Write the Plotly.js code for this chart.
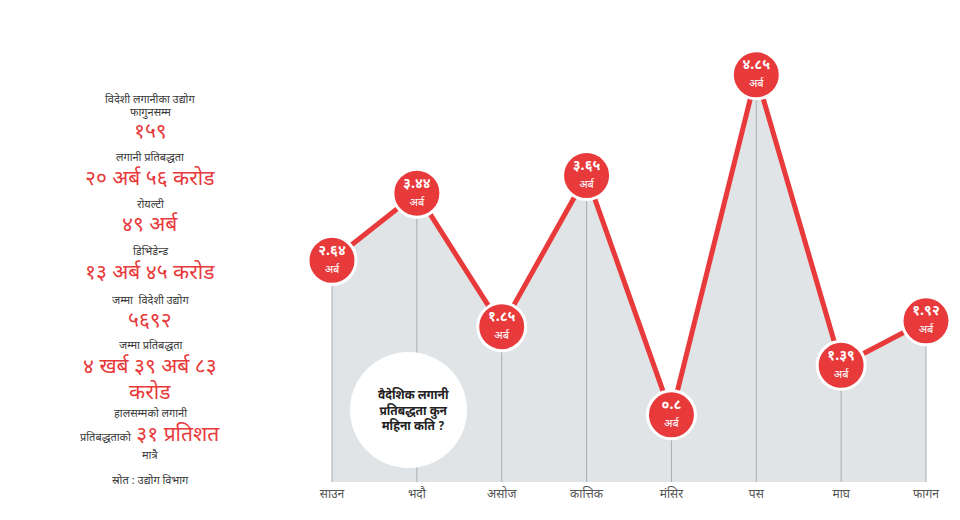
<!DOCTYPE html>
<html><head><meta charset="utf-8">
<script src="https://cdn.plot.ly/plotly-3.0.1.min.js"></script>
<style>html,body{margin:0;padding:0;background:#fff}#c{width:960px;height:520px}</style>
</head><body><div id="c"></div>
<script>
const months = ["साउन","भदौ","असोज","कात्तिक","मंसिर","पस","माघ","फागन"];
const values = [2.64, 3.44, 1.85, 3.65, 0.8, 4.85, 1.39, 1.92];
const unitLabel = "अर्ब";

const sideLines = [
  ["विदेशी लगानीका उद्योग", "s"],
  ["फागुनसम्म", "s"],
  ["१५९", "b"],
  ["लगानी प्रतिबद्धता", "s"],
  ["२० अर्ब ५६ करोड", "b"],
  ["रोयल्टी", "s"],
  ["४९ अर्ब", "b"],
  ["डिभिडेन्ड", "s"],
  ["१३ अर्ब ४५ करोड", "b"],
  ["जम्मा  विदेशी उद्योग", "s"],
  ["५६९२", "b"],
  ["जम्मा प्रतिबद्धता", "s"],
  ["४ खर्ब ३९ अर्ब ८३", "b"],
  ["करोड", "b"],
  ["हालसम्मको लगानी", "s"],
  ["प्रतिबद्धताको|३१ प्रतिशत", "m"],
  ["मात्रै", "s"],
  ["स्रोत : उद्योग विभाग", "s"]
];
const sideY = [100,113,133,158,180,205,226,252,274,301,322,346,368,394,414,436,456,481];
const bubbleText = ["वैदेशिक लगानी", "प्रतिबद्धता कुन", "महिना कति ?"];

const RED = "#e8393b";
const DARK = "#3a3a3a";
const FONT = "'Noto Sans Devanagari','Noto Sans','Lohit Devanagari',sans-serif";

const dev = "०१२३४५६७८९";
function toDev(v){ return String(v).replace(/[0-9]/g, d => dev[+d]); }

const xs = months.map((m,i)=>i);
const W = 960, H = 520, B = 38;
// pixel mapping: x=0 -> 332, x=7 -> 926
const x0px = 332, dxpx = (926-332)/7;
const xr = [(0 - x0px)/dxpx, (W - x0px)/dxpx];
const ypx = 83.95;
const yr = [0, (H - B)/ypx];
const px = p => p / W;
const py = p => (H - B - p) / (H - B);

const annotations = [];
sideLines.forEach((l,i)=>{
  let txt, size, color;
  if (l[1]==="s"){ txt=l[0]; size=11; color=DARK; }
  else if (l[1]==="b"){ txt=l[0]; size=21; color=RED; }
  else { const parts=l[0].split("|");
    txt = `<span style="font-size:11px;color:${DARK}">${parts[0]}</span> <span style="font-size:21px;color:${RED}">${parts[1]}</span>`;
    size=21; color=RED; }
  annotations.push({xref:"paper",yref:"paper",x:px(150),y:py(sideY[i]),text:txt,showarrow:false,
    xanchor:"center",yanchor:"middle",borderpad:0,font:{family:FONT,size:size,color:color}});
});
annotations.push({xref:"paper",yref:"paper",x:px(413),y:py(411),text:bubbleText.map(t=>"<b>"+t+"</b>").join("<br>"),
  showarrow:false,xanchor:"center",yanchor:"middle",font:{family:FONT,size:12,color:"#222"}});

const labels = values.map(v => `<b>${toDev(v)}</b><br><span style="font-size:11px">${unitLabel}</span>`);

const traces = [
  {x:xs,y:values,type:"scatter",mode:"lines",fill:"tozeroy",fillcolor:"#e0e4e6",
   line:{width:0,color:"rgba(0,0,0,0)"},hoverinfo:"skip",
   error_y:{type:"data",symmetric:false,array:values.map(()=>0),arrayminus:values,
     color:"#a9adb0",thickness:1,width:0}},
  {x:xs,y:values,type:"scatter",mode:"lines+markers+text",
   line:{color:RED,width:5},
   marker:{size:48,color:RED,line:{color:"#ffffff",width:3}},
   text:labels,textposition:"middle center",
   textfont:{family:FONT,size:14,color:"#ffffff"},cliponaxis:false,hoverinfo:"skip"}
];

const layout = {
  width:W,height:H,margin:{l:0,r:0,t:0,b:B},
  paper_bgcolor:"#fff",plot_bgcolor:"#fff",showlegend:false,
  xaxis:{range:xr,tickmode:"array",tickvals:xs,ticktext:months,showgrid:false,zeroline:false,
    showline:false,ticks:"",ticklabelstandoff:3,tickfont:{family:FONT,size:12,color:"#555"},fixedrange:true},
  yaxis:{range:yr,visible:false,showgrid:false,zeroline:false,fixedrange:true},
  shapes:[{type:"circle",xref:"paper",yref:"paper",layer:"above",
    x0:px(350),x1:px(467),y0:py(352),y1:py(468),fillcolor:"#ffffff",line:{width:0}}],
  annotations:annotations
};
Plotly.newPlot("c",traces,layout,{displayModeBar:false,staticPlot:true});
</script></body></html>
